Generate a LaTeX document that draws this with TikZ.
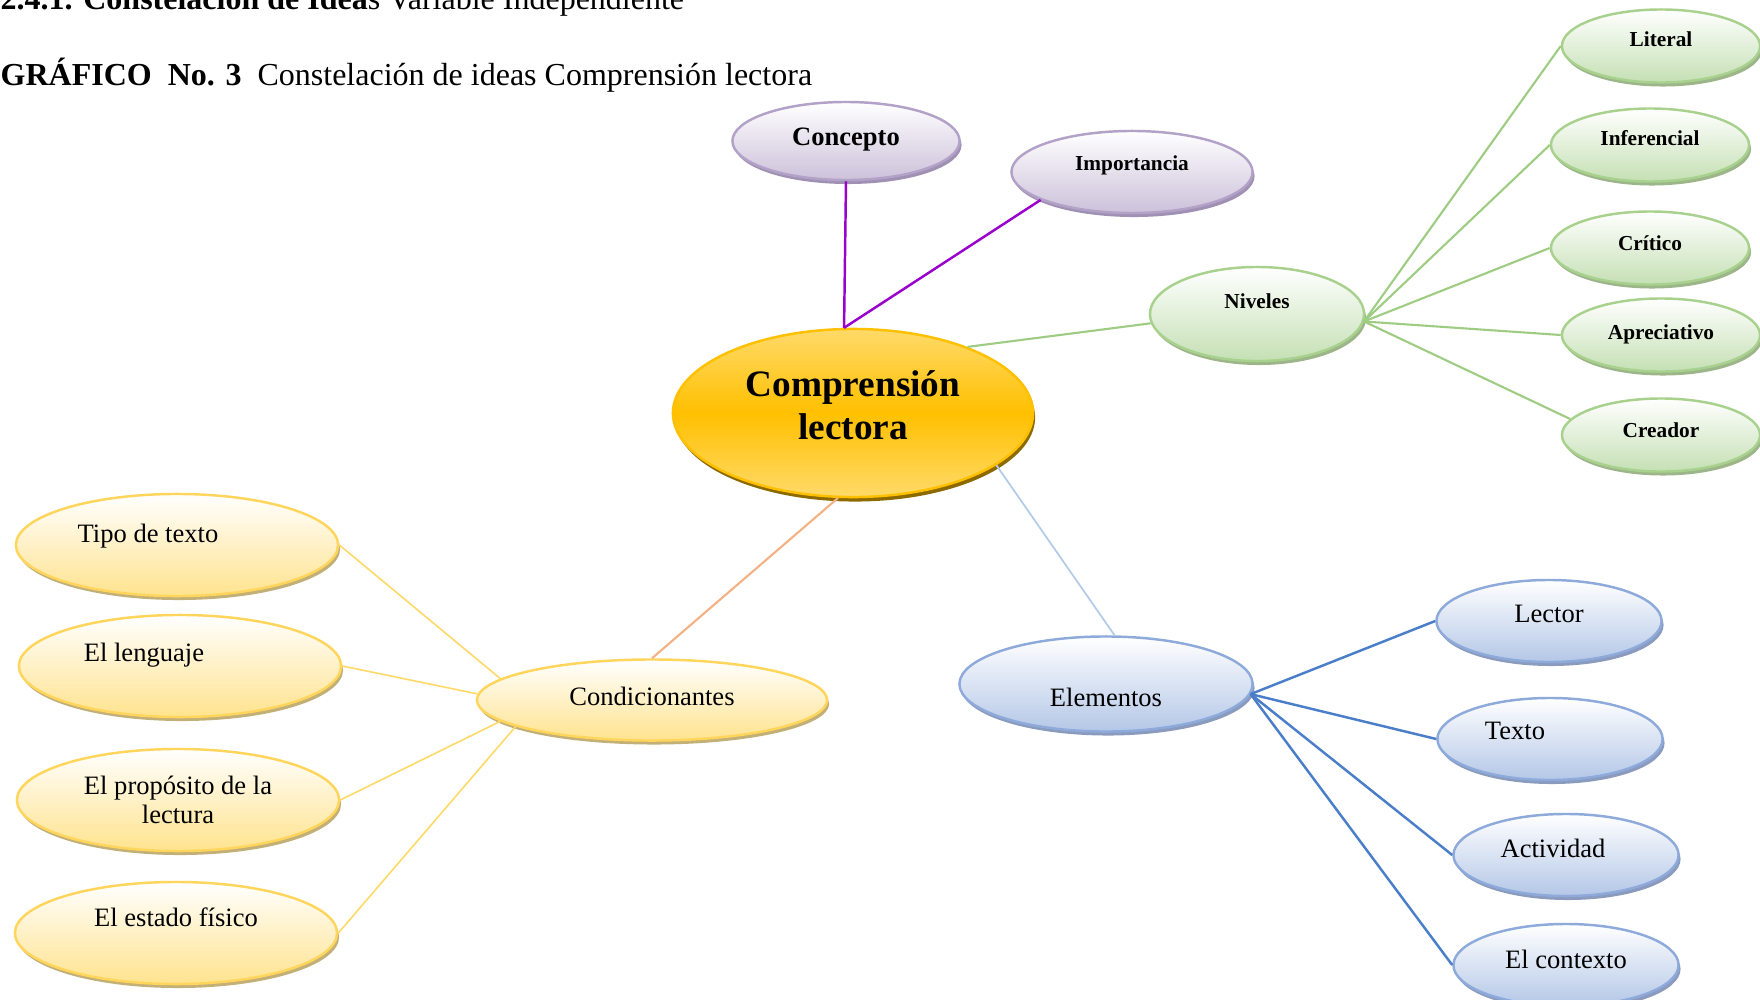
\documentclass[tikz,border=0pt]{standalone}
\usepackage{fontspec}
\setmainfont{Liberation Serif}
\usetikzlibrary{shapes.geometric,shadows}

\definecolor{cenM}{HTML}{FFC000}
\definecolor{cenT}{HTML}{FFDA6A}
\definecolor{cenS}{HTML}{8C6A00}
\definecolor{purpB}{HTML}{B3A2C7}
\definecolor{purpF}{HTML}{CCC1DA}
\definecolor{purpS}{HTML}{A091B4}
\definecolor{grnB}{HTML}{A9D18E}
\definecolor{grnF}{HTML}{C5E0B4}
\definecolor{grnS}{HTML}{9CB68A}
\definecolor{yelB}{HTML}{FFD55C}
\definecolor{yelF}{HTML}{FFE38E}
\definecolor{yelS}{HTML}{C2B077}
\definecolor{bluB}{HTML}{8EAADB}
\definecolor{bluF}{HTML}{B4C7E7}
\definecolor{bluS}{HTML}{8A9BBE}
\definecolor{vioL}{HTML}{9900CC}
\definecolor{grnL}{HTML}{9DCC82}
\definecolor{bluL}{HTML}{4A7EC8}
\definecolor{lbluL}{HTML}{B4CBE8}
\definecolor{orgL}{HTML}{F4B183}
\definecolor{yelL}{HTML}{FFD966}

\tikzset{
  bub/.style={ellipse, inner sep=0pt, line width=0.7pt, align=center},
  tx/.style 2 args={text height=#1, text depth=#2},
  fbig/.style={font=\fontsize{10.6}{12.2}\selectfont\bfseries},
  fmid/.style={font=\fontsize{7.55}{8.3}\selectfont},
  fmidb/.style={font=\fontsize{7.55}{8.3}\selectfont\bfseries},
  fsml/.style={font=\fontsize{6.06}{7.3}\selectfont\bfseries},
  ftitle/.style={font=\fontsize{9.1}{11}\selectfont, inner sep=0pt, anchor=base west},
  cen/.style={bub, fbig, draw=cenM, top color=cenT, bottom color=cenT, middle color=cenM,
    drop shadow={shadow xshift=0.02cm, shadow yshift=-0.045cm, fill=cenS, opacity=1}},
  purp/.style={bub, draw=purpB, top color=white, bottom color=purpF,
    drop shadow={shadow xshift=0.02cm, shadow yshift=-0.04cm, fill=purpS, opacity=1}},
  grn/.style={bub, fsml, draw=grnB, top color=white, bottom color=grnF,
    drop shadow={shadow xshift=0.02cm, shadow yshift=-0.04cm, fill=grnS, opacity=1}},
  yel/.style={bub, fmid, draw=yelB, top color=white, bottom color=yelF,
    drop shadow={shadow xshift=0.02cm, shadow yshift=-0.04cm, fill=yelS, opacity=1}},
  blu/.style={bub, fmid, draw=bluB, top color=white, bottom color=bluF,
    drop shadow={shadow xshift=0.02cm, shadow yshift=-0.04cm, fill=bluS, opacity=1}},
  leaf/.style={minimum width=1.98cm, minimum height=0.73cm},
  bleaf/.style={minimum width=2.25cm, minimum height=0.82cm},
  yleaf/.style={minimum width=3.22cm, minimum height=1.02cm},
  vline/.style={vioL, line width=0.7pt},
  gline/.style={grnL, line width=0.6pt},
  bline/.style={bluL, line width=0.7pt},
  lbline/.style={lbluL, line width=0.5pt},
  oline/.style={orgL, line width=0.6pt},
  yline/.style={yelL, line width=0.45pt}
}

\begin{document}
\begin{tikzpicture}[x=0.01cm,y=-0.01cm]
\useasboundingbox (0,0) rectangle (1760,1000);

\node[ftitle] (h1) at (0,10) {\textbf{2.4.1. Constelación de Idea}s Variable Independiente};
\node[ftitle] (h2) at (0,85) {\textbf{GRÁFICO\ \ No. 3}\ \ Constelación de ideas Comprensión lectora};

\node[cen, minimum width=3.6cm, minimum height=1.68cm, text depth=0.16cm] (c) at (853,413) {Comprensión\\lectora};

\node[purp, fmidb, minimum width=2.27cm, minimum height=0.78cm, tx={0.18cm}{0.10cm}] (con) at (846,141) {Concepto};
\node[purp, fsml, minimum width=2.41cm, minimum height=0.82cm, tx={0.15cm}{0.18cm}] (imp) at (1132,172) {Importancia};

\node[grn, minimum width=2.14cm, minimum height=0.94cm, tx={0.15cm}{0.26cm}] (niv) at (1257,314) {Niveles};
\node[grn, leaf, tx={0.15cm}{0.14cm}] (lit) at (1661,46) {Literal};
\node[grn, leaf, tx={0.15cm}{0.14cm}] (inf) at (1650,145) {Inferencial};
\node[grn, leaf, tx={0.15cm}{0.10cm}] (cri) at (1650,248) {Crítico};
\node[grn, leaf, tx={0.15cm}{0.06cm}] (apr) at (1661,335) {Apreciativo};
\node[grn, leaf, tx={0.15cm}{0.10cm}] (cre) at (1661,435) {Creador};

\node[blu, minimum width=2.93cm, minimum height=0.95cm, tx={0.50cm}{0.06cm}] (ele) at (1106,684) {Elementos};
\node[blu, bleaf, tx={0.18cm}{0.16cm}] (lec) at (1549,621) {Lector};
\node[blu, bleaf, tx={0.18cm}{0.18cm}] (tex) at (1550,739) {\hspace*{-0.7cm}Texto};
\node[blu, bleaf, tx={0.18cm}{0.14cm}] (act) at (1566,855) {\hspace*{-0.26cm}Actividad};
\node[blu, bleaf, tx={0.18cm}{0.12cm}] (ctx) at (1566,965) {El contexto};

\node[yel, minimum width=3.5cm, minimum height=0.81cm, tx={0.18cm}{0.08cm}] (cond) at (652,700) {Condicionantes};
\node[yel, yleaf, tx={0.18cm}{0.24cm}] (tipo) at (177,545) {\hspace*{-0.58cm}Tipo de texto};
\node[yel, yleaf, tx={0.18cm}{0.28cm}] (leng) at (180,666) {\hspace*{-0.72cm}El lenguaje};
\node[yel, yleaf] (prop) at (178,800) {El propósito de la\\lectura};
\node[yel, yleaf, tx={0.18cm}{0.32cm}] (est) at (176,933) {El estado físico};

\draw[vline] (con.south) -- (c.96);
\draw[vline] (imp.197) -- (c.96);

\draw[gline] (c.30) -- (niv.185);
\foreach \n in {lit,inf,cri,apr}
  \draw[gline] (niv.-4) -- (\n.west);
\draw[gline] (niv.-4) -- (cre.170);

\draw[lbline] (c.340) -- (ele.80);
\foreach \n in {lec,tex,act,ctx}
  \draw[bline] (ele.-4) -- (\n.west);

\draw[oline] (c.260) -- (cond.north);
\draw[yline] (tipo.east) -- (cond.172);
\draw[yline] (leng.east) -- (cond.178);
\draw[yline] (prop.east) -- (cond.188);
\draw[yline] (est.east) -- (cond.191);

\end{tikzpicture}
\end{document}
